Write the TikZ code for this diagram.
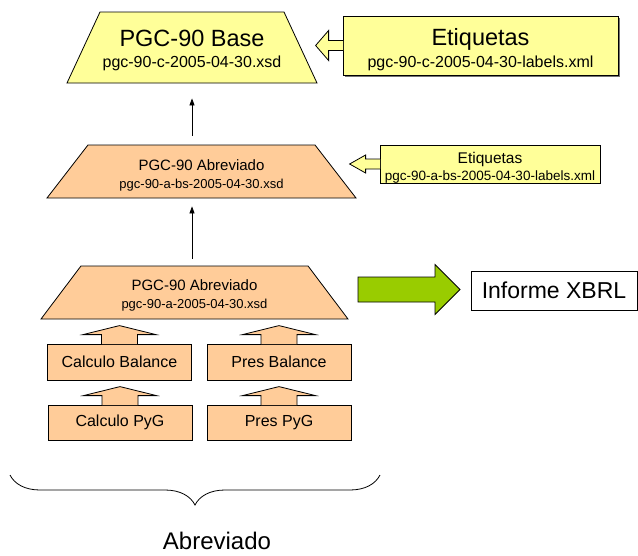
\documentclass[tikz,border=0pt]{standalone}
\usepackage{fontspec}
\setmainfont{Liberation Sans}
\definecolor{paleyellow}{RGB}{255,255,153}
\definecolor{peach}{RGB}{255,204,153}
\definecolor{limegreen}{RGB}{153,204,0}
\usetikzlibrary{arrows.meta}
\usetikzlibrary{shapes.geometric}
\usetikzlibrary{decorations.pathreplacing}
\usetikzlibrary{shadows}

\begin{document}
\begin{tikzpicture}[x=1pt, y=-1pt]
        \tikzset{every node/.style={inner sep=0pt, align=center},
                >={Triangle[length=7pt, width=5pt]},
                every edge/.style={draw=black, line width=0.8pt},
                taxonomy/.style={draw, line width=0.8pt, trapezium, trapezium stretches body},
                labelbox/.style={draw, line width=0.8pt, fill=paleyellow},
                module/.style={draw, line width=0.8pt, fill=peach, minimum width=144pt},
                callout/.style={draw, line width=0.8pt, line join=miter}}
        \useasboundingbox (0,0) rectangle (638,555);

        \node[taxonomy, fill=paleyellow, trapezium angle=65.07, minimum width=250pt,
              text height=55pt, text depth=16pt,
              font=\fontsize{23.5}{21}\selectfont] (base) at (192, 47.5)
              {PGC-90 Base\\{\fontsize{16}{21}\selectfont pgc-90-c-2005-04-30.xsd}};
        \node[labelbox, general shadow={fill=black!55, shadow xshift=1.5pt, shadow yshift=-1.5pt},
              minimum width=275pt, text height=51pt, text depth=8pt,
              font=\fontsize{23.5}{22}\selectfont] (etiq1) at (480.5, 45.5)
              {Etiquetas\\{\fontsize{16}{22}\selectfont pgc-90-c-2005-04-30-labels.xml}};
        \node[taxonomy, fill=peach, trapezium angle=52.3, minimum width=309pt,
              text height=43pt, text depth=10pt,
              font=\fontsize{15}{18}\selectfont] (abrevbs) at (201.5, 171.5)
              {PGC-90 Abreviado\\{\fontsize{13}{18}\selectfont pgc-90-a-bs-2005-04-30.xsd}};
        \node[labelbox, minimum width=220pt, text height=35pt, text depth=3pt,
              font=\fontsize{15.5}{17}\selectfont] (etiq2) at (490, 164)
              {Etiquetas\\{\fontsize{13.5}{17}\selectfont pgc-90-a-bs-2005-04-30-labels.xml}};
        \node[taxonomy, fill=peach, trapezium angle=53, minimum width=307pt,
              text height=42pt, text depth=11pt,
              font=\fontsize{15}{17.5}\selectfont] (abrev) at (194.5, 292.5)
              {PGC-90 Abreviado\\{\fontsize{13}{17.5}\selectfont pgc-90-a-2005-04-30.xsd}};
        \node[draw, line width=0.8pt, fill=white, minimum width=166pt, minimum height=39pt,
              font=\fontsize{23}{23}\selectfont] (xbrl) at (554, 290.5) {Informe XBRL};
        \node[module, minimum height=36pt, font=\fontsize{16}{16}\selectfont] (calcbal) at (119.5, 362) {Calculo Balance};
        \node[module, minimum height=36pt, font=\fontsize{16}{16}\selectfont] (presbal) at (279, 362) {Pres Balance};
        \node[module, minimum height=35pt, font=\fontsize{16}{16}\selectfont] (calcpyg) at (120, 422.5) {Calculo PyG};
        \node[module, minimum height=35pt, font=\fontsize{16}{16}\selectfont] (prespyg) at (279, 422.5) {Pres PyG};
        \node[font=\fontsize{24}{24}\selectfont] (abreviado) at (217, 541) {Abreviado};
        \coordinate (greenstart) at (358, 289.5);

        \path [->] (base.south |- abrevbs.north) edge[shorten <=9pt, shorten >=15pt] (base.south);
        \path [->] (base.south |- abrev.north) edge[shorten <=7pt, shorten >=8pt] (base.south |- abrevbs.south);

        % label arrows
        \draw[callout, fill=paleyellow] (etiq1.west) ++(0.6,-5) -- ++(-14.6,0) -- ++(0,-10) -- ++(-13,15)
              -- ++(13,15) -- ++(0,-10) -- ++(14.6,0);
        \draw[callout, fill=paleyellow] (etiq2.west) ++(0.6,-5) -- ++(-14.6,0) -- ++(0,-4) -- ++(-16,9)
              -- ++(16,9) -- ++(0,-4) -- ++(14.6,0);

        \foreach \m in {calcbal, presbal, calcpyg, prespyg}
            \draw[callout, fill=peach] (\m.north) ++(-18,0.6) -- ++(0,-9.6) -- ++(-18.5,0) -- ++(36.5,-9)
                  -- ++(36.5,9) -- ++(-18.5,0) -- ++(0,9.6);

        \draw[callout, fill=limegreen] (greenstart) ++(0,-12.5) -- ++(77,0) -- ++(0,-12.5) -- ++(25,25)
              -- ++(-25,25) -- ++(0,-12.5) -- ++(-77,0) -- cycle;

        \draw[line width=0.8pt, decorate, decoration={brace, mirror, amplitude=30pt}] (10,475) -- (380,475);

    \end{tikzpicture}
\end{document}
